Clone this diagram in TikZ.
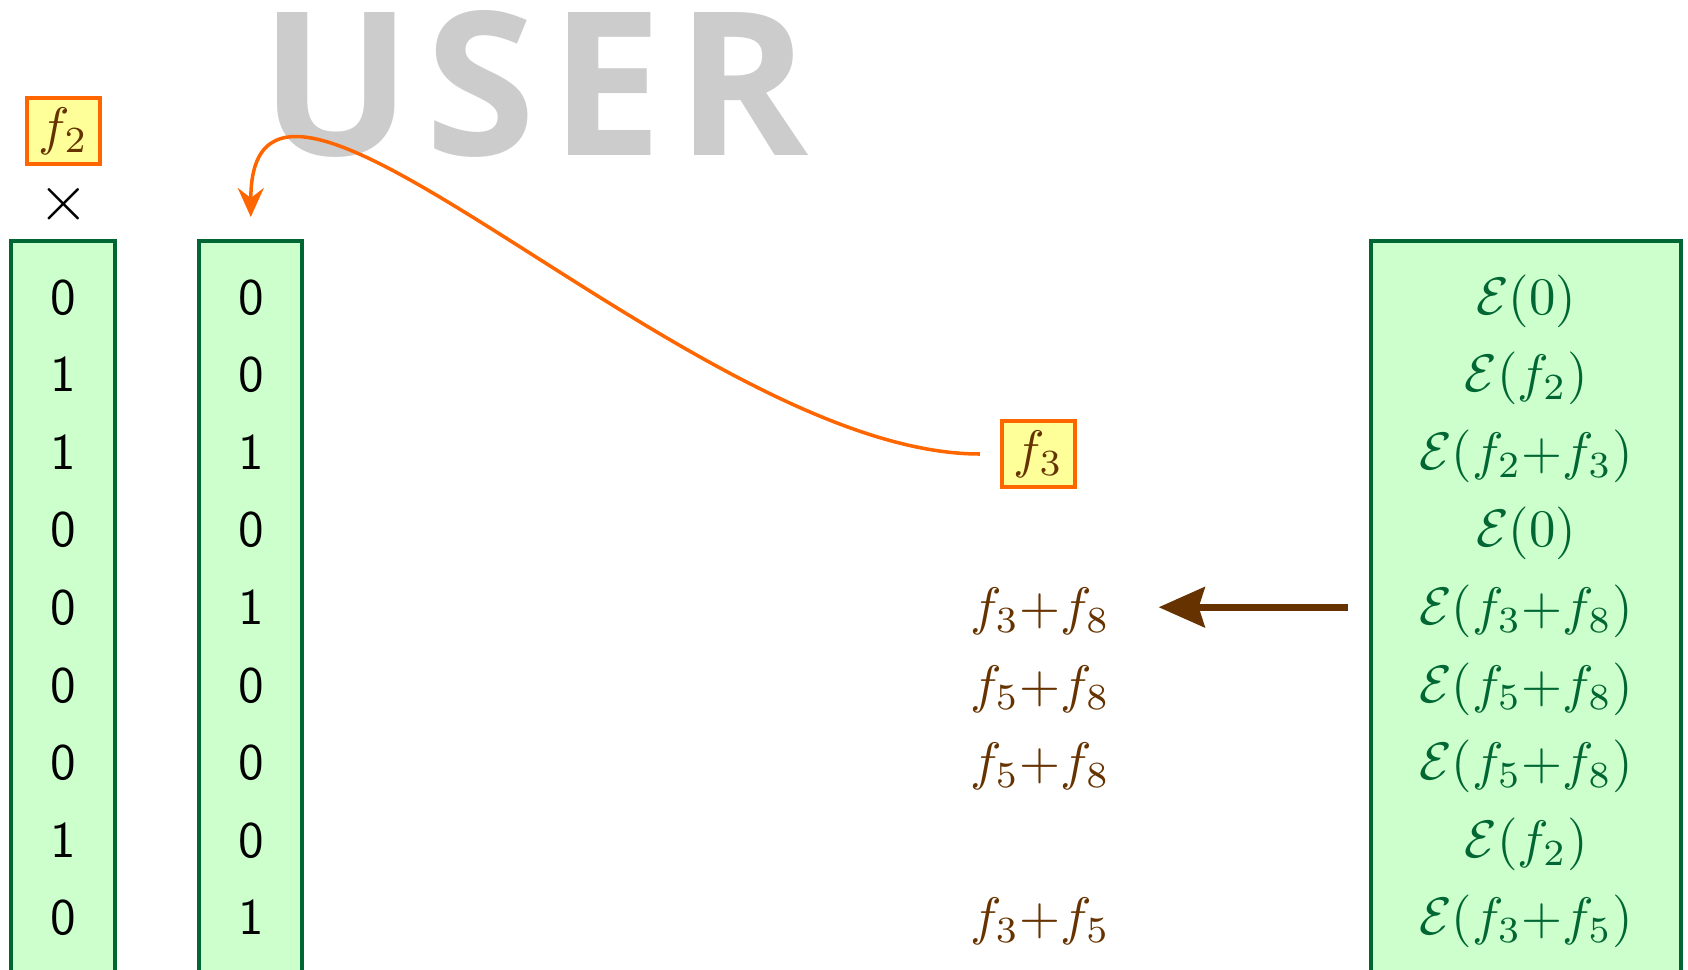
\documentclass[tikz,border=0pt]{standalone}
\usepackage{amsmath}
\usepackage{graphicx}
\usepackage{fontspec}
\newfontfamily\userfont{Open Sans}
\usetikzlibrary{arrows.meta,positioning,calc}

\definecolor{cellgreen}{HTML}{CCFFCC}
\definecolor{boxgreen}{HTML}{006633}
\definecolor{sumbrown}{HTML}{663300}
\definecolor{keyorange}{HTML}{FF6600}
\definecolor{keyyellow}{HTML}{FFFF99}
\definecolor{usergray}{HTML}{CCCCCC}

% 10pt glyphs blown up to slide size
\newcommand{\upsized}[1]{\scalebox{1.5}{#1}}

\begin{document}
\begin{tikzpicture}[
    colbox/.style={draw=boxgreen, fill=cellgreen, line width=1.1pt, anchor=north, inner sep=0pt},
    bit/.style={anchor=base, font=\fontsize{9.7}{11}\selectfont\sffamily},
    enc/.style={anchor=base, text=boxgreen, font=\fontsize{10}{12}\selectfont},
    partsum/.style={anchor=base, text=sumbrown, inner sep=0pt, font=\fontsize{10}{12}\selectfont},
    keybox/.style={draw=keyorange, fill=keyyellow, line width=1.1pt, text=sumbrown,
        minimum width=0.735cm, minimum height=0.665cm, inner sep=0pt, font=\fontsize{10}{12}\selectfont}
]
    % Page size
    \useasboundingbox (0,0) rectangle (16.88,-9.70);
    \clip (0,0) rectangle (16.88,-9.70);

    % Row layout
    \pgfmathsetmacro{\rowtop}{3.14}
    \pgfmathsetmacro{\rowstep}{0.776}

    % Watermark
    \node[anchor=base west, inner sep=0pt, text=usergray,
        font=\userfont\bfseries\fontsize{57}{58}\selectfont] (user) at (2.60,-1.55)
        {U\kern0.14cm S\kern0.14cm E\kern0.14cm R};

    % Column boxes (they run off the bottom edge)
    \node[colbox, minimum width=1.04cm, minimum height=7.8cm] (colA) at (0.633,-2.39) {};
    \node[colbox, minimum width=1.03cm, minimum height=7.8cm] (colB) at (2.508,-2.39) {};
    \node[colbox, minimum width=3.105cm, minimum height=7.8cm] (encbox) at (15.26,-2.39) {};

    % Bit vectors
    \foreach \v [count=\i] in {0,1,1,0,0,0,0,1,0}
        \node[bit] (a\i) at (0.633,{-\rowtop-(\i-1)*\rowstep}) {\upsized{\v}};
    \foreach \v [count=\i] in {0,0,1,0,1,0,0,0,1}
        \node[bit] (b\i) at (2.508,{-\rowtop-(\i-1)*\rowstep}) {\upsized{\v}};

    % Encrypted entries
    \foreach \t [count=\i] in {0, f_2, f_2{+}f_3, 0, f_3{+}f_8, f_5{+}f_8, f_5{+}f_8, f_2, f_3{+}f_5}
        \node[enc] (e\i) at (15.26,{-\rowtop-(\i-1)*\rowstep}) {\upsized{$\mathcal{E}(\t)$}};

    % Decrypted sums
    \foreach \t/\i in {f_3{+}f_8/5, f_5{+}f_8/6, f_5{+}f_8/7, f_3{+}f_5/9}
        \node[partsum] (s\i) at (10.40,{-\rowtop-(\i-1)*\rowstep}) {\upsized{$\t$}};

    % Keys
    \node[keybox] (k2) at (0.635,-1.31) {\upsized{$f_2$}};
    \node[inner sep=0pt] (times) at (0.635,-2.04) {\scalebox{1.85}{$\times$}};
    \node[keybox] (k3) at (10.385,-4.54) {\upsized{$f_3$}};

    % Arrows
    \draw[keyorange, line width=1pt, -{Stealth[length=0.29cm, width=0.26cm, inset=0.1cm]}]
        ([xshift=-0.2cm]k3.west) .. controls +(180:2.85) and +(90:2.5) .. ([yshift=0.22cm]colB.north);
    \coordinate (tail) at ([xshift=-0.21cm, yshift=0.04cm]encbox.west |- e5);
    \draw[sumbrown, line width=2pt, -{Stealth[length=0.46cm, width=0.40cm, inset=0.06cm]}]
        (tail) -- ([xshift=0.48cm]s5.east |- tail);
\end{tikzpicture}
\end{document}
